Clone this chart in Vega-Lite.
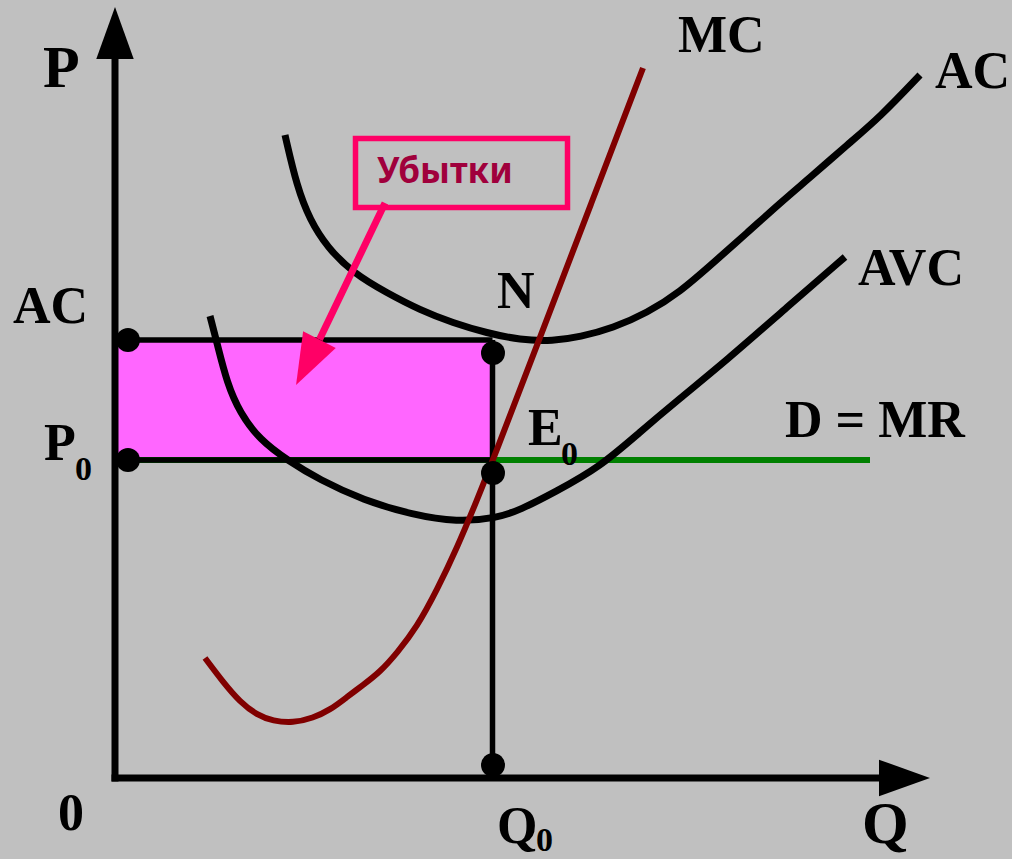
{
  "$schema": "https://vega.github.io/schema/vega-lite/v6.json",
  "width": 1012,
  "height": 859,
  "padding": 0,
  "autosize": {"type": "none"},
  "background": "#c0c0c0",
  "config": {"view": {"stroke": null}},
  "encoding": {
    "x": {"field": "q", "type": "quantitative", "scale": {"domain": [-11.5, 89.7], "nice": false, "zero": false}, "axis": null},
    "y": {"field": "p", "type": "quantitative", "scale": {"domain": [-8.1, 77.8], "nice": false, "zero": false}, "axis": null}
  },
  "layer": [
    {
      "data": {"values": [{"q": 0, "p": 43.8, "q2": 37.75, "p2": 31.8}]},
      "mark": {"type": "rect", "fill": "#ff66ff"},
      "encoding": {"x2": {"field": "q2"}, "y2": {"field": "p2"}}
    },
    {
      "data": {"values": [{"q": 0, "p": 31.8, "q2": 75.5, "p2": 31.8}]},
      "mark": {"type": "rule", "color": "#008000", "strokeWidth": 6},
      "encoding": {"x2": {"field": "q2"}, "y2": {"field": "p2"}}
    },
    {
      "data": {"values": [
        {"q": 0, "p": 43.8, "q2": 37.75, "p2": 43.8},
        {"q": 0, "p": 31.8, "q2": 37.75, "p2": 31.8},
        {"q": 37.75, "p": 43.8, "q2": 37.75, "p2": 0}
      ]},
      "mark": {"type": "rule", "color": "#000000", "strokeWidth": 5.5},
      "encoding": {"x2": {"field": "q2"}, "y2": {"field": "p2"}}
    },
    {
      "data": {"values": [
        {"q": 17.0, "p": 64.3}, {"q": 18.2, "p": 59.1}, {"q": 19.5, "p": 55.8}, {"q": 21.2, "p": 53.1},
        {"q": 23.8, "p": 50.5}, {"q": 27.2, "p": 48.5}, {"q": 30.5, "p": 46.8}, {"q": 33.8, "p": 45.5},
        {"q": 37.2, "p": 44.5}, {"q": 40.5, "p": 43.8}, {"q": 43.8, "p": 43.7}, {"q": 46.5, "p": 44.1},
        {"q": 49.8, "p": 45.0}, {"q": 53.2, "p": 46.5}, {"q": 56.5, "p": 48.6}, {"q": 59.8, "p": 51.5},
        {"q": 63.2, "p": 54.5}, {"q": 66.5, "p": 57.5}, {"q": 69.8, "p": 60.3}, {"q": 73.2, "p": 63.3},
        {"q": 76.5, "p": 66.1}, {"q": 80.5, "p": 70.3}
      ]},
      "mark": {"type": "line", "color": "#000000", "strokeWidth": 7, "interpolate": "basis"},
      "encoding": {}
    },
    {
      "data": {"values": [
        {"q": 9.5, "p": 46.2}, {"q": 10.2, "p": 43.5}, {"q": 11.2, "p": 39.5}, {"q": 12.5, "p": 36.5},
        {"q": 14.5, "p": 33.8}, {"q": 17.2, "p": 31.8}, {"q": 20.5, "p": 29.8}, {"q": 24.8, "p": 27.8},
        {"q": 29.8, "p": 26.3}, {"q": 34.2, "p": 25.6}, {"q": 38.2, "p": 26.0}, {"q": 40.5, "p": 26.8},
        {"q": 44.0, "p": 28.6}, {"q": 48.5, "p": 31.1}, {"q": 52.5, "p": 34.6}, {"q": 56.3, "p": 37.8},
        {"q": 61.2, "p": 41.8}, {"q": 67.0, "p": 46.9}, {"q": 73.0, "p": 52.1}
      ]},
      "mark": {"type": "line", "color": "#000000", "strokeWidth": 7, "interpolate": "basis"},
      "encoding": {}
    },
    {
      "data": {"values": [
        {"q": 9.0, "p": 12.0}, {"q": 10.8, "p": 9.6}, {"q": 12.5, "p": 7.6}, {"q": 14.2, "p": 6.3},
        {"q": 15.8, "p": 5.7}, {"q": 17.8, "p": 5.5}, {"q": 19.8, "p": 6.0}, {"q": 21.5, "p": 6.8},
        {"q": 23.2, "p": 8.1}, {"q": 24.8, "p": 9.3}, {"q": 26.5, "p": 10.6}, {"q": 28.2, "p": 12.5},
        {"q": 30.2, "p": 15.1}, {"q": 32.2, "p": 18.8}, {"q": 34.2, "p": 23.0}, {"q": 36.2, "p": 27.8},
        {"q": 37.8, "p": 31.8}, {"q": 42.4, "p": 43.8}, {"q": 47.6, "p": 57.4}, {"q": 52.8, "p": 71.0}
      ]},
      "mark": {"type": "line", "color": "#800000", "strokeWidth": 6, "interpolate": "basis"},
      "encoding": {}
    },
    {
      "data": {"values": [
        {"q": 0, "p": 0, "q2": 0, "p2": 71.9},
        {"q": 0, "p": 0, "q2": 76.4, "p2": 0}
      ]},
      "mark": {"type": "rule", "color": "#000000", "strokeWidth": 7, "strokeCap": "square"},
      "encoding": {"x2": {"field": "q2"}, "y2": {"field": "p2"}}
    },
    {
      "data": {"values": [{"q": 0, "p": 74.5}]},
      "mark": {"type": "point", "shape": "M0,-1L0.72,1L-0.72,1Z", "filled": true, "color": "#000000", "opacity": 1, "size": 2704, "angle": 0}
    },
    {
      "data": {"values": [{"q": 78.95, "p": 0}]},
      "mark": {"type": "point", "shape": "M0,-1L0.72,1L-0.72,1Z", "filled": true, "color": "#000000", "opacity": 1, "size": 2601, "angle": 90}
    },
    {
      "data": {"values": [
        {"q": 1.3, "p": 43.8}, {"q": 1.3, "p": 31.8}, {"q": 37.8, "p": 42.5},
        {"q": 37.8, "p": 30.5}, {"q": 37.8, "p": 1.3}
      ]},
      "mark": {"type": "point", "shape": "circle", "filled": true, "color": "#000000", "opacity": 1, "size": 576}
    },
    {
      "data": {"values": [{"q": 24.05, "p": 63.95, "q2": 45.25, "p2": 57.05}]},
      "mark": {"type": "rect", "fill": "#c0c0c0", "fillOpacity": 0, "stroke": "#ff0066", "strokeWidth": 5.5},
      "encoding": {"x2": {"field": "q2"}, "y2": {"field": "p2"}}
    },
    {
      "data": {"values": [{"q": 27.0, "p": 57.5, "q2": 20.45, "p2": 43.85}]},
      "mark": {"type": "rule", "color": "#ff0066", "strokeWidth": 7},
      "encoding": {"x2": {"field": "q2"}, "y2": {"field": "p2"}}
    },
    {
      "data": {"values": [{"q": 19.275, "p": 41.575}]},
      "mark": {"type": "point", "shape": "M0,-1L0.72,1L-0.72,1Z", "filled": true, "color": "#ff0066", "opacity": 1, "size": 2601, "angle": 207.3}
    },
    {
      "data": {"values": [{"q": 26.2, "p": 59.5, "t": "Убытки"}]},
      "mark": {"type": "text", "font": "Noto Sans", "fontWeight": "bold", "fontSize": 35, "color": "#a0003c", "align": "left", "baseline": "alphabetic"},
      "encoding": {"text": {"field": "t"}}
    },
    {
      "data": {"values": [
        {"q": -7.2, "p": 69.1, "t": "P"},
        {"q": 74.7, "p": -6.5, "t": "Q"}
      ]},
      "mark": {"type": "text", "font": "Liberation Serif", "fontWeight": "bold", "fontSize": 60, "color": "#000000", "align": "left", "baseline": "alphabetic"},
      "encoding": {"text": {"field": "t"}}
    },
    {
      "data": {"values": [
        {"q": -10.2, "p": 45.5, "t": "AC"},
        {"q": -7.1, "p": 31.8, "t": "P"},
        {"q": 38.2, "p": 47.0, "t": "N"},
        {"q": 41.3, "p": 33.3, "t": "E"},
        {"q": 56.3, "p": 72.6, "t": "MC"},
        {"q": 82.0, "p": 69.0, "t": "AC"},
        {"q": 74.3, "p": 49.3, "t": "AVC"},
        {"q": 67.0, "p": 34.1, "t": "D = MR"},
        {"q": -5.7, "p": -5.2, "t": "0"},
        {"q": 38.2, "p": -6.5, "t": "Q"}
      ]},
      "mark": {"type": "text", "font": "Liberation Serif", "fontWeight": "bold", "fontSize": 52, "color": "#000000", "align": "left", "baseline": "alphabetic"},
      "encoding": {"text": {"field": "t"}}
    },
    {
      "data": {"values": [
        {"q": -4.0, "p": 29.8, "t": "0"},
        {"q": 44.6, "p": 31.3, "t": "0"},
        {"q": 42.1, "p": -7.3, "t": "0"}
      ]},
      "mark": {"type": "text", "font": "Liberation Serif", "fontWeight": "bold", "fontSize": 34, "color": "#000000", "align": "left", "baseline": "alphabetic"},
      "encoding": {"text": {"field": "t"}}
    }
  ]
}
